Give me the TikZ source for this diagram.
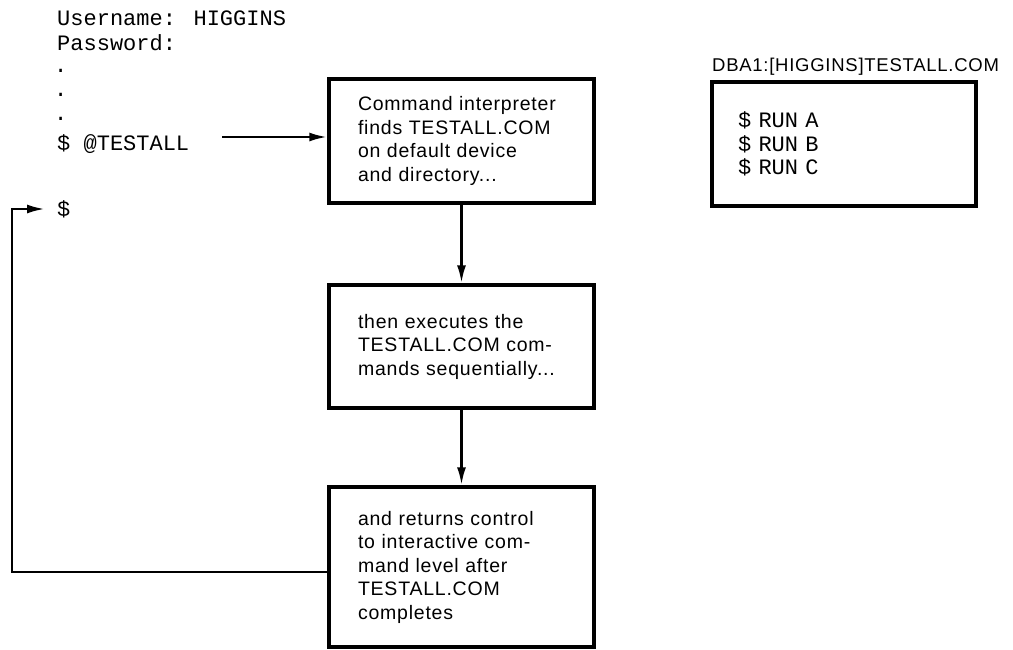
\documentclass[tikz,border=0pt]{standalone}
\usepackage{fontspec}
\setmainfont{Liberation Sans}
\newfontfamily\termfont{Liberation Mono}
\newfontfamily\boxfont[LetterSpace=4]{Liberation Sans}
\usetikzlibrary{arrows.meta}
\tikzset{
  term/.style={font=\termfont\fontsize{22}{23.5}\selectfont, inner sep=0pt, anchor=base west},
  flowbox/.style={draw, line width=3.5pt, minimum width=265pt, inner xsep=29pt, text width=207pt,
    align=left, font=\boxfont\fontsize{19.5}{23.5}\selectfont},
  conn/.style={line width=2.6pt, -{Latex[length=18pt,width=9pt]}}
}
\begin{document}
\begin{tikzpicture}[x=1pt,y=-1pt]
\useasboundingbox[fill=white] (0,0) rectangle (1013,649);
% terminal session
\node[term] (user) at (57,25) {Username: HIGGINS};
\node[term] (pass) at (57,50) {Password:};
\node[term] (dot1) at (54,72) {.};
\node[term] (dot2) at (54,96) {.};
\node[term] (dot3) at (54,120) {.};
\node[term] (cmd) at (57,150) {\$ @TESTALL};
\node[term] (prompt) at (57,216) {\$};
% flow boxes
\node[flowbox, minimum height=124pt] (b1) at (461.5,141)
  {Command interpreter\\finds TESTALL.COM\\on default device\\and directory...};
\node[flowbox, minimum height=123pt] (b2) at (461.5,346.5)
  {then executes the\\TESTALL.COM com-\\mands sequentially...};
\node[flowbox, minimum height=160pt] (b3) at (461.5,567)
  {and returns control\\to interactive com-\\mand level after\\TESTALL.COM\\completes};
% file box
\node[font=\boxfont\fontsize{18.5}{22}\selectfont, anchor=base west, inner sep=0pt] (fname) at (712,71)
  {DBA1:[HIGGINS]TESTALL.COM};
\node[draw, line width=3.5pt, minimum width=264pt, minimum height=124pt, inner xsep=26pt,
  text width=212pt, align=left, font=\termfont\fontsize{22}{23.5}\selectfont] (file) at (844,144)
  {\$ RUN A\\\$ RUN B\\\$ RUN C};
% connectors
\coordinate (c1) at (222,137);
\draw[conn] (c1) -- (c1 -| b1.west);
\draw[conn] (b1.south) -- (b2.north);
\draw[conn] (b2.south) -- (b3.north);
\coordinate (ret) at (12,572);
\coordinate (retend) at (45,209);
\draw[conn] (ret -| b3.west) -- (ret) |- (retend);
\end{tikzpicture}
\end{document}
